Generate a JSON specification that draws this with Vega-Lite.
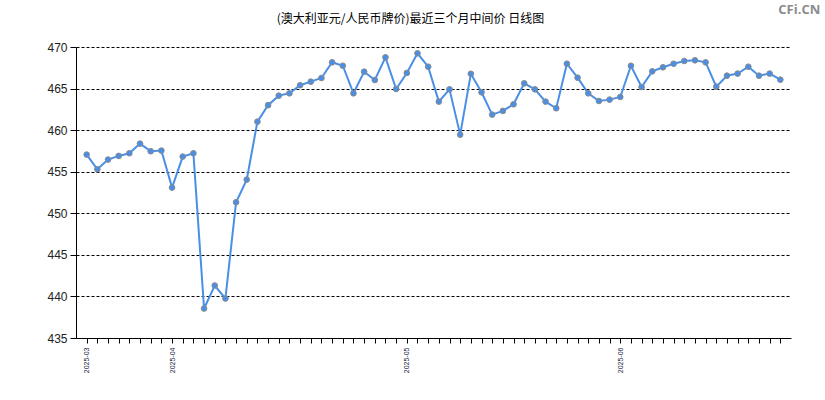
{
  "$schema": "https://vega.github.io/schema/vega-lite/v6.json",
  "autosize": "none",
  "width": 715,
  "height": 291,
  "padding": {"left": 76, "top": 47, "right": 34, "bottom": 62},
  "background": "white",
  "title": {
    "text": "(澳大利亚元/人民币牌价)最近三个月中间价 日线图",
    "font": "Noto Sans CJK SC",
    "fontSize": 12,
    "fontWeight": "normal",
    "color": "#000000",
    "anchor": "middle",
    "dx": -23,
    "offset": -22
  },
  "config": {
    "view": {"stroke": null},
    "axis": {"labelFont": "Liberation Sans", "titleFont": "Liberation Sans"}
  },
  "data": {
    "values": [
      {"date": "2025-03-20", "price": 457.06},
      {"date": "2025-03-21", "price": 455.30},
      {"date": "2025-03-24", "price": 456.46},
      {"date": "2025-03-25", "price": 456.90},
      {"date": "2025-03-26", "price": 457.22},
      {"date": "2025-03-27", "price": 458.38},
      {"date": "2025-03-28", "price": 457.46},
      {"date": "2025-03-31", "price": 457.54},
      {"date": "2025-04-01", "price": 453.09},
      {"date": "2025-04-02", "price": 456.82},
      {"date": "2025-04-03", "price": 457.22},
      {"date": "2025-04-07", "price": 438.55},
      {"date": "2025-04-08", "price": 441.31},
      {"date": "2025-04-09", "price": 439.75},
      {"date": "2025-04-10", "price": 451.33},
      {"date": "2025-04-11", "price": 454.05},
      {"date": "2025-04-14", "price": 461.02},
      {"date": "2025-04-15", "price": 463.00},
      {"date": "2025-04-16", "price": 464.15},
      {"date": "2025-04-17", "price": 464.43},
      {"date": "2025-04-18", "price": 465.40},
      {"date": "2025-04-21", "price": 465.83},
      {"date": "2025-04-22", "price": 466.27},
      {"date": "2025-04-23", "price": 468.16},
      {"date": "2025-04-24", "price": 467.75},
      {"date": "2025-04-25", "price": 464.43},
      {"date": "2025-04-27", "price": 467.03},
      {"date": "2025-04-28", "price": 466.03},
      {"date": "2025-04-29", "price": 468.76},
      {"date": "2025-04-30", "price": 464.95},
      {"date": "2025-05-06", "price": 466.88},
      {"date": "2025-05-07", "price": 469.24},
      {"date": "2025-05-08", "price": 467.63},
      {"date": "2025-05-09", "price": 463.43},
      {"date": "2025-05-12", "price": 464.91},
      {"date": "2025-05-13", "price": 459.46},
      {"date": "2025-05-14", "price": 466.78},
      {"date": "2025-05-15", "price": 464.55},
      {"date": "2025-05-16", "price": 461.87},
      {"date": "2025-05-19", "price": 462.31},
      {"date": "2025-05-20", "price": 463.11},
      {"date": "2025-05-21", "price": 465.63},
      {"date": "2025-05-22", "price": 464.91},
      {"date": "2025-05-23", "price": 463.43},
      {"date": "2025-05-26", "price": 462.63},
      {"date": "2025-05-27", "price": 467.99},
      {"date": "2025-05-28", "price": 466.31},
      {"date": "2025-05-29", "price": 464.43},
      {"date": "2025-05-30", "price": 463.51},
      {"date": "2025-05-31", "price": 463.67},
      {"date": "2025-06-03", "price": 463.99},
      {"date": "2025-06-04", "price": 467.74},
      {"date": "2025-06-05", "price": 465.19},
      {"date": "2025-06-06", "price": 467.07},
      {"date": "2025-06-09", "price": 467.56},
      {"date": "2025-06-10", "price": 467.99},
      {"date": "2025-06-11", "price": 468.32},
      {"date": "2025-06-12", "price": 468.40},
      {"date": "2025-06-13", "price": 468.16},
      {"date": "2025-06-16", "price": 465.23},
      {"date": "2025-06-17", "price": 466.55},
      {"date": "2025-06-18", "price": 466.80},
      {"date": "2025-06-19", "price": 467.63},
      {"date": "2025-06-20", "price": 466.55},
      {"date": "2025-06-23", "price": 466.80},
      {"date": "2025-06-24", "price": 466.07}
    ]
  },
  "encoding": {
    "x": {
      "field": "date",
      "type": "ordinal",
      "scale": {"type": "point", "padding": 1},
      "axis": {
        "title": null,
        "domainColor": "#000000",
        "domainWidth": 1,
        "tickColor": "#000000",
        "tickSize": 5,
        "labelAngle": 270,
        "labelAlign": "right",
        "labelBaseline": "middle",
        "labelFontSize": 7,
        "labelColor": "#1a1a40",
        "labelPadding": 4,
        "labelOverlap": false,
        "labelExpr": "indexof(['2025-03-20','2025-04-01','2025-05-06','2025-06-03'], datum.value) >= 0 ? slice(datum.value, 0, 7) : ''"
      }
    },
    "y": {
      "field": "price",
      "type": "quantitative",
      "scale": {"domain": [435, 470], "zero": false, "nice": false},
      "axis": {
        "title": null,
        "values": [435, 440, 445, 450, 455, 460, 465, 470],
        "domainColor": "#000000",
        "tickColor": "#000000",
        "tickSize": 6,
        "labelFontSize": 12,
        "labelColor": "#222222",
        "labelPadding": 3,
        "grid": true,
        "gridColor": "#000000",
        "gridDash": [3, 2],
        "gridOpacity": 1
      }
    }
  },
  "layer": [
    {
      "mark": {"type": "line", "color": "#4a8fe7", "strokeWidth": 2}
    },
    {
      "mark": {"type": "point", "filled": true, "size": 32, "fill": "#4a8fe7", "stroke": "#8a8a8a", "strokeWidth": 1, "opacity": 1}
    },
    {
      "data": {"values": [{"date": "2025-06-24", "price": 474.5, "label": "CFi.CN"}]},
      "mark": {"type": "text", "align": "left", "baseline": "middle", "dx": -2, "font": "Open Sans", "fontSize": 13, "fontWeight": "bold", "color": "#8c8c8c", "clip": false},
      "encoding": {"text": {"field": "label"}}
    }
  ]
}
